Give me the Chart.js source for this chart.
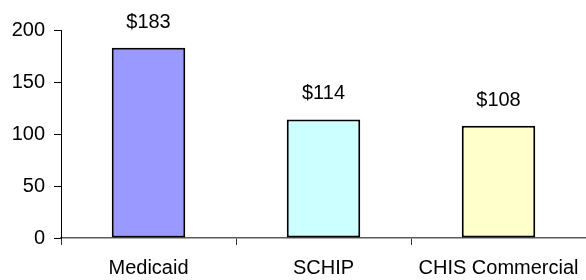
<!DOCTYPE html>
<html>
<head>
<meta charset="utf-8">
<script src="https://cdn.jsdelivr.net/npm/chart.js@4/dist/chart.umd.min.js"></script>
<style>
html,body{margin:0;padding:0;background:#fff;}
#wrap{width:586px;height:280px;position:relative;}
</style>
</head>
<body>
<div id="wrap"><canvas id="c" width="586" height="280"></canvas></div>
<script>
const categories = ["Medicaid", "SCHIP", "CHIS Commercial"];
const values = [183, 114, 108];
const valueLabels = ["$183", "$114", "$108"];
const barColors = ["#9999FF", "#CCFFFF", "#FFFFCC"];
const yTicks = [0, 50, 100, 150, 200];

const FONT = "'Liberation Sans', Arial, sans-serif";
const FSIZE = 20;

const valueLabelPlugin = {
  id: 'valueLabels',
  afterDatasetsDraw(chart) {
    const ctx = chart.ctx;
    const meta = chart.getDatasetMeta(0);
    ctx.save();
    ctx.font = FSIZE + "px " + FONT;
    ctx.fillStyle = "#000";
    ctx.textAlign = "center";
    ctx.textBaseline = "alphabetic";
    meta.data.forEach((bar, i) => {
      ctx.fillText(valueLabels[i], bar.x, bar.y - 20);
    });
    ctx.restore();
  }
};

new Chart(document.getElementById('c'), {
  type: 'bar',
  data: {
    labels: categories,
    datasets: [{
      data: values,
      backgroundColor: barColors,
      borderColor: "#000",
      borderWidth: 2,
      borderSkipped: false,
      categoryPercentage: 1.0,
      barPercentage: 0.42
    }]
  },
  options: {
    responsive: false,
    animation: false,
    devicePixelRatio: 1,
    layout: { padding: { top: 30, right: 0, left: 0, bottom: 0 } },
    plugins: { legend: { display: false }, tooltip: { enabled: false } },
    scales: {
      x: {
        grid: { display: true, drawOnChartArea: false, offset: true, color: "#333", tickLength: 7 },
        border: { color: "#5a5a5a", width: 1.5 },
        ticks: { font: { family: FONT, size: FSIZE }, color: "#000", padding: 11, maxRotation: 0, autoSkip: false },
        afterFit(scale) { scale.height = 42; scale.paddingLeft = 0; scale.paddingRight = 0; }
      },
      y: {
        min: 0, max: 200,
        grid: { display: true, drawOnChartArea: false, color: "#000", tickLength: 7 },
        border: { color: "#000", width: 1 },
        ticks: {
          stepSize: 50,
          font: { family: FONT, size: FSIZE }, color: "#000", padding: 9,
          callback: (v) => yTicks.includes(v) ? String(v) : null
        },
        afterFit(scale) { scale.width = 61; }
      }
    }
  },
  plugins: [valueLabelPlugin]
});
</script>
</body>
</html>
